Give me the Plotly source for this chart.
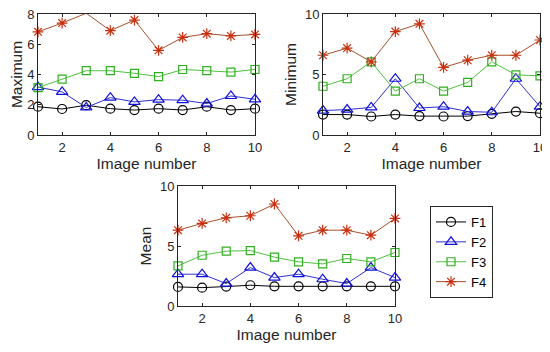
import plotly.graph_objects as go

image_number = [1, 2, 3, 4, 5, 6, 7, 8, 9, 10]
series_names = ["F1", "F2", "F3", "F4"]

max_F1 = [1.87, 1.72, 1.97, 1.74, 1.65, 1.74, 1.65, 1.87, 1.65, 1.74]
max_F2 = [3.17, 2.85, 1.82, 2.47, 2.19, 2.34, 2.30, 2.08, 2.58, 2.36]
max_F3 = [3.13, 3.70, 4.25, 4.25, 4.08, 3.86, 4.33, 4.25, 4.16, 4.33]
max_F4 = [6.82, 7.40, 8.05, 6.90, 7.60, 5.60, 6.45, 6.70, 6.55, 6.65]

min_F1 = [1.69, 1.69, 1.53, 1.69, 1.56, 1.53, 1.56, 1.75, 1.94, 1.80]
min_F2 = [2.02, 2.10, 2.28, 4.65, 2.23, 2.34, 1.94, 1.88, 4.65, 2.34]
min_F3 = [4.03, 4.65, 6.05, 3.63, 4.65, 3.63, 4.35, 6.05, 4.97, 4.89]
min_F4 = [6.59, 7.18, 6.05, 8.55, 9.19, 5.59, 6.18, 6.59, 6.59, 7.85]

mean_F1 = [1.59, 1.53, 1.62, 1.73, 1.64, 1.64, 1.64, 1.64, 1.64, 1.64]
mean_F2 = [2.65, 2.65, 1.87, 3.20, 2.37, 2.65, 2.23, 1.87, 3.20, 2.37]
mean_F3 = [3.34, 4.23, 4.57, 4.62, 4.07, 3.68, 3.51, 3.96, 3.68, 4.46]
mean_F4 = [6.32, 6.88, 7.35, 7.52, 8.50, 5.85, 6.32, 6.32, 5.90, 7.30]

max_ticks = [0, 2, 4, 6, 8]
minmean_ticks = [0, 5, 10]
x_ticks = [2, 4, 6, 8, 10]

styles = {
    "F1": dict(line="#000000", marker="#000000", symbol="circle-open", size=9),
    "F2": dict(line="#3030d0", marker="#1010e0", symbol="triangle-up-open", size=10),
    "F3": dict(line="#50c040", marker="#30b020", symbol="square-open", size=8),
    "F4": dict(line="#a5502a", marker="#c83010", symbol="asterisk-open", size=9),
}

panels = [
    ("x", "y", [max_F1, max_F2, max_F3, max_F4]),
    ("x2", "y2", [min_F1, min_F2, min_F3, min_F4]),
    ("x3", "y3", [mean_F1, mean_F2, mean_F3, mean_F4]),
]

fig = go.Figure()
for pi, (xa, ya, data) in enumerate(panels):
    for name, vals in zip(series_names, data):
        s = styles[name]
        fig.add_trace(go.Scatter(
            x=image_number, y=vals, xaxis=xa, yaxis=ya, name=name,
            mode="lines+markers", showlegend=(pi == 2),
            line=dict(color=s["line"], width=1),
            marker=dict(symbol=s["symbol"], size=s["size"], color=s["marker"],
                        line=dict(color=s["marker"], width=1.2)),
            cliponaxis=False,
        ))

# page body has an 8px margin, so the figure is drawn offset by (8, 8)
OFF = 8
W, H = 550 - OFF, 352 - OFF


def xd(a, b):
    return [(a - OFF) / W, (b - OFF) / W]


def yd(top, bottom):
    return [1 - (bottom - OFF) / H, 1 - (top - OFF) / H]


TC = "#262626"
axis_common = dict(
    showline=True, linecolor=TC, linewidth=1, mirror="ticks",
    ticks="inside", ticklen=3, tickcolor=TC, showgrid=False, zeroline=False,
    tickfont=dict(size=13, color=TC), ticklabeloverflow="allow", automargin=False,
)
tfont = dict(size=15.5, color=TC)
xcommon = dict(axis_common, range=[1, 10], tickvals=x_ticks,
               title=dict(text="Image number", font=tfont, standoff=2))

fig.update_layout(
    width=W, height=H, margin=dict(l=0, r=0, t=0, b=0, autoexpand=False),
    paper_bgcolor="white", plot_bgcolor="white",
    font=dict(family="Liberation Sans, Arial, sans-serif", color=TC),
    xaxis=dict(xcommon, domain=xd(38, 255), anchor="y"),
    yaxis=dict(axis_common, domain=yd(14, 135), range=[0, 8], tickvals=max_ticks,
               anchor="x", title=dict(text="Maximum", font=tfont, standoff=4)),
    xaxis2=dict(xcommon, domain=xd(323, 540), anchor="y2"),
    yaxis2=dict(axis_common, domain=yd(14, 135), range=[0, 10], tickvals=minmean_ticks,
                anchor="x2", title=dict(text="Minimum", font=tfont, standoff=4)),
    xaxis3=dict(xcommon, domain=xd(178, 395), anchor="y3"),
    yaxis3=dict(axis_common, domain=yd(186, 306), range=[0, 10], tickvals=minmean_ticks,
                anchor="x3", title=dict(text="Mean", font=tfont, standoff=4)),
    legend=dict(x=(430 - OFF) / W, y=1 - (206 - OFF) / H, xanchor="left", yanchor="top",
                bordercolor=TC, borderwidth=1, bgcolor="white",
                font=dict(size=13, color="#000000"), tracegroupgap=0, itemwidth=30),
)

fig.write_html("out.html")
